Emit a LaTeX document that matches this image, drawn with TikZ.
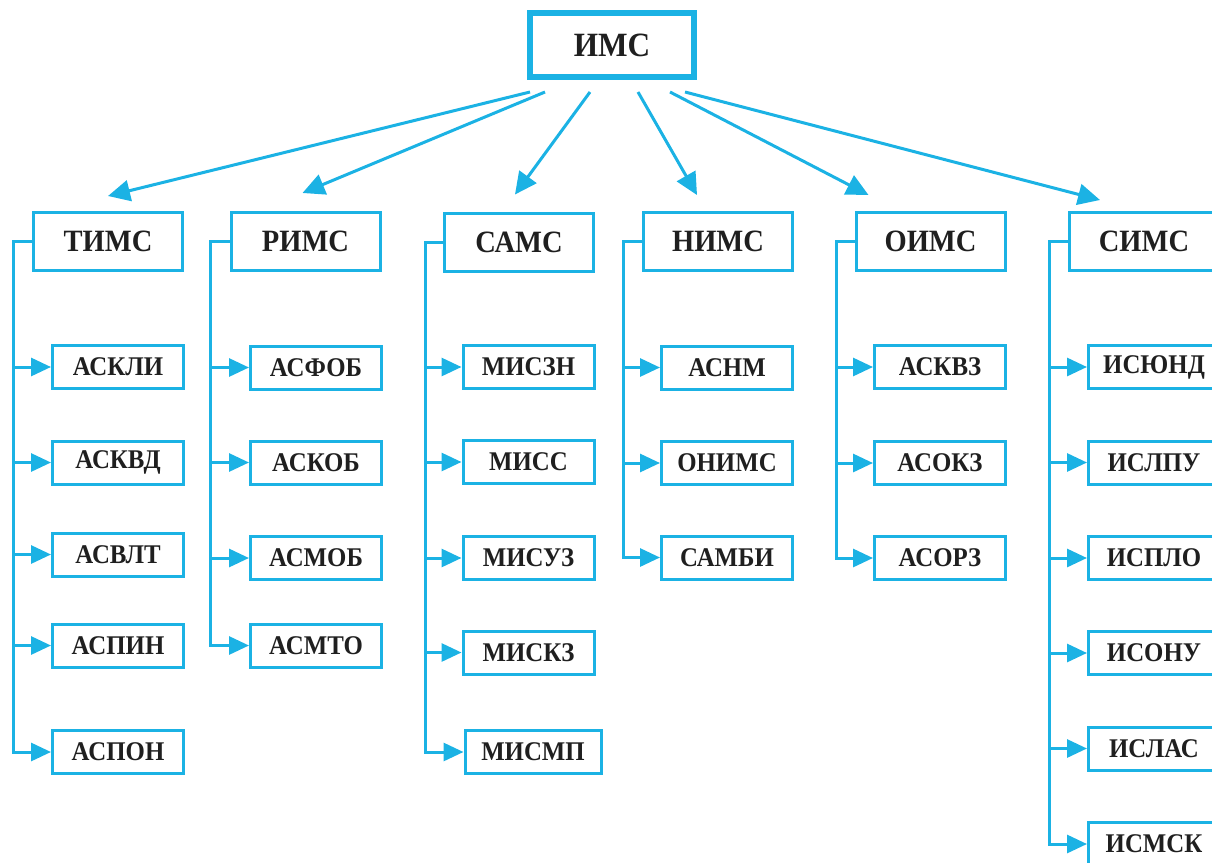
\documentclass[tikz,border=0pt]{standalone}
\usepackage{fontspec}
\setmainfont{Liberation Serif}[FakeStretch=0.92]
\usetikzlibrary{positioning,calc,arrows.meta}
\definecolor{imsblue}{RGB}{27,178,228}

\begin{document}
\begin{tikzpicture}
      [x=1pt,y=-1pt,
       every node/.style={draw=imsblue,fill=white,text=black!88,inner sep=0pt,
         font=\bfseries\fontsize{27}{27}\selectfont},
       topbox/.style={line width=3pt,minimum width=149pt,minimum height=58pt,
         font=\bfseries\fontsize{31}{31}\selectfont},
       subbox/.style={line width=3pt,minimum width=131pt,minimum height=43pt},
       fan/.style={draw=imsblue,line width=3pt,-{Triangle[length=22pt,width=21pt]}},
       bus/.style={draw=imsblue,line width=3pt,-{Triangle[length=20pt,width=18pt]}}]
      \useasboundingbox (0,0) rectangle (1212,862);
      \clip (0,0) rectangle (1212,862);

      \node[line width=6pt,minimum width=164pt,minimum height=64pt,
            font=\bfseries\fontsize{34}{34}\selectfont] (ims) at (612,45) {ИМС};

      \node[topbox] (tims) at (108,241.5) {ТИМС};
      \node[topbox] (rims) at (305.5,241.5) {РИМС};
      \node[topbox] (sams) at (519,242) {САМС};
      \node[topbox] (nims) at (718,241.5) {НИМС};
      \node[topbox] (oims) at (930.5,241.5) {ОИМС};
      \node[topbox] (sims) at (1144,241.5) {СИМС};

      \node[subbox] (t1) at (118,367) {АСКЛИ};
      \node[subbox] (t2) at (118,462.5) {АСКВД};
      \node[subbox] (t3) at (118,554.5) {АСВЛТ};
      \node[subbox] (t4) at (118,645.5) {АСПИН};
      \node[subbox] (t5) at (118,752) {АСПОН};

      \node[subbox] (r1) at (316,367.5) {АСФОБ};
      \node[subbox] (r2) at (316,462.5) {АСКОБ};
      \node[subbox] (r3) at (316,558) {АСМОБ};
      \node[subbox] (r4) at (316,645.5) {АСМТО};

      \node[subbox] (s1) at (528.5,367) {МИСЗН};
      \node[subbox] (s2) at (528.5,462) {МИСС};
      \node[subbox] (s3) at (528.5,558) {МИСУЗ};
      \node[subbox] (s4) at (528.5,652.5) {МИСКЗ};
      \node[subbox,minimum width=136pt] (s5) at (533,752) {МИСМП};

      \node[subbox] (n1) at (727,367.5) {АСНМ};
      \node[subbox] (n2) at (727,463) {ОНИМС};
      \node[subbox] (n3) at (727,557.5) {САМБИ};

      \node[subbox] (o1) at (940,367) {АСКВЗ};
      \node[subbox] (o2) at (940,463) {АСОКЗ};
      \node[subbox] (o3) at (940,558) {АСОРЗ};

      \node[subbox] (c1) at (1154,367) {ИСЮНД};
      \node[subbox] (c2) at (1154,462.5) {ИСЛПУ};
      \node[subbox] (c3) at (1154,558) {ИСПЛО};
      \node[subbox] (c4) at (1154,653) {ИСОНУ};
      \node[subbox] (c5) at (1154,748.5) {ИСЛАС};
      \node[subbox] (c6) at (1154,844) {ИСМСК};

      \draw[fan] ($(ims.south)+(-82,12)$) -- ($(tims.north)+(0,-15)$);
      \draw[fan] ($(ims.south)+(-67,12)$) -- ($(rims.north)+(-3,-18)$);
      \draw[fan] ($(ims.south)+(-22,12)$) -- ($(sams.north)+(-4,-17)$);
      \draw[fan] ($(ims.south)+(26,12)$) -- ($(nims.north)+(-21,-16)$);
      \draw[fan] ($(ims.south)+(58,12)$) -- ($(oims.north)+(-62,-16)$);
      \draw[fan] ($(ims.south)+(73,12)$) -- ($(sims.north)+(-44,-11)$);

      \draw[bus] (tims.west) -- ++(-19,0) |- (t1.west);
      \draw[bus] (tims.west) -- ++(-19,0) |- (t2.west);
      \draw[bus] (tims.west) -- ++(-19,0) |- (t3.west);
      \draw[bus] (tims.west) -- ++(-19,0) |- (t4.west);
      \draw[bus] (tims.west) -- ++(-19,0) |- (t5.west);

      \draw[bus] (rims.west) -- ++(-19,0) |- (r1.west);
      \draw[bus] (rims.west) -- ++(-19,0) |- (r2.west);
      \draw[bus] (rims.west) -- ++(-19,0) |- (r3.west);
      \draw[bus] (rims.west) -- ++(-19,0) |- (r4.west);

      \draw[bus] (sams.west) -- ++(-18,0) |- (s1.west);
      \draw[bus] (sams.west) -- ++(-18,0) |- (s2.west);
      \draw[bus] (sams.west) -- ++(-18,0) |- (s3.west);
      \draw[bus] (sams.west) -- ++(-18,0) |- (s4.west);
      \draw[bus] (sams.west) -- ++(-18,0) |- (s5.west);

      \draw[bus] (nims.west) -- ++(-19,0) |- (n1.west);
      \draw[bus] (nims.west) -- ++(-19,0) |- (n2.west);
      \draw[bus] (nims.west) -- ++(-19,0) |- (n3.west);

      \draw[bus] (oims.west) -- ++(-18,0) |- (o1.west);
      \draw[bus] (oims.west) -- ++(-18,0) |- (o2.west);
      \draw[bus] (oims.west) -- ++(-18,0) |- (o3.west);

      \draw[bus] (sims.west) -- ++(-19,0) |- (c1.west);
      \draw[bus] (sims.west) -- ++(-19,0) |- (c2.west);
      \draw[bus] (sims.west) -- ++(-19,0) |- (c3.west);
      \draw[bus] (sims.west) -- ++(-19,0) |- (c4.west);
      \draw[bus] (sims.west) -- ++(-19,0) |- (c5.west);
      \draw[bus] (sims.west) -- ++(-19,0) |- (c6.west);
    \end{tikzpicture}
\end{document}
